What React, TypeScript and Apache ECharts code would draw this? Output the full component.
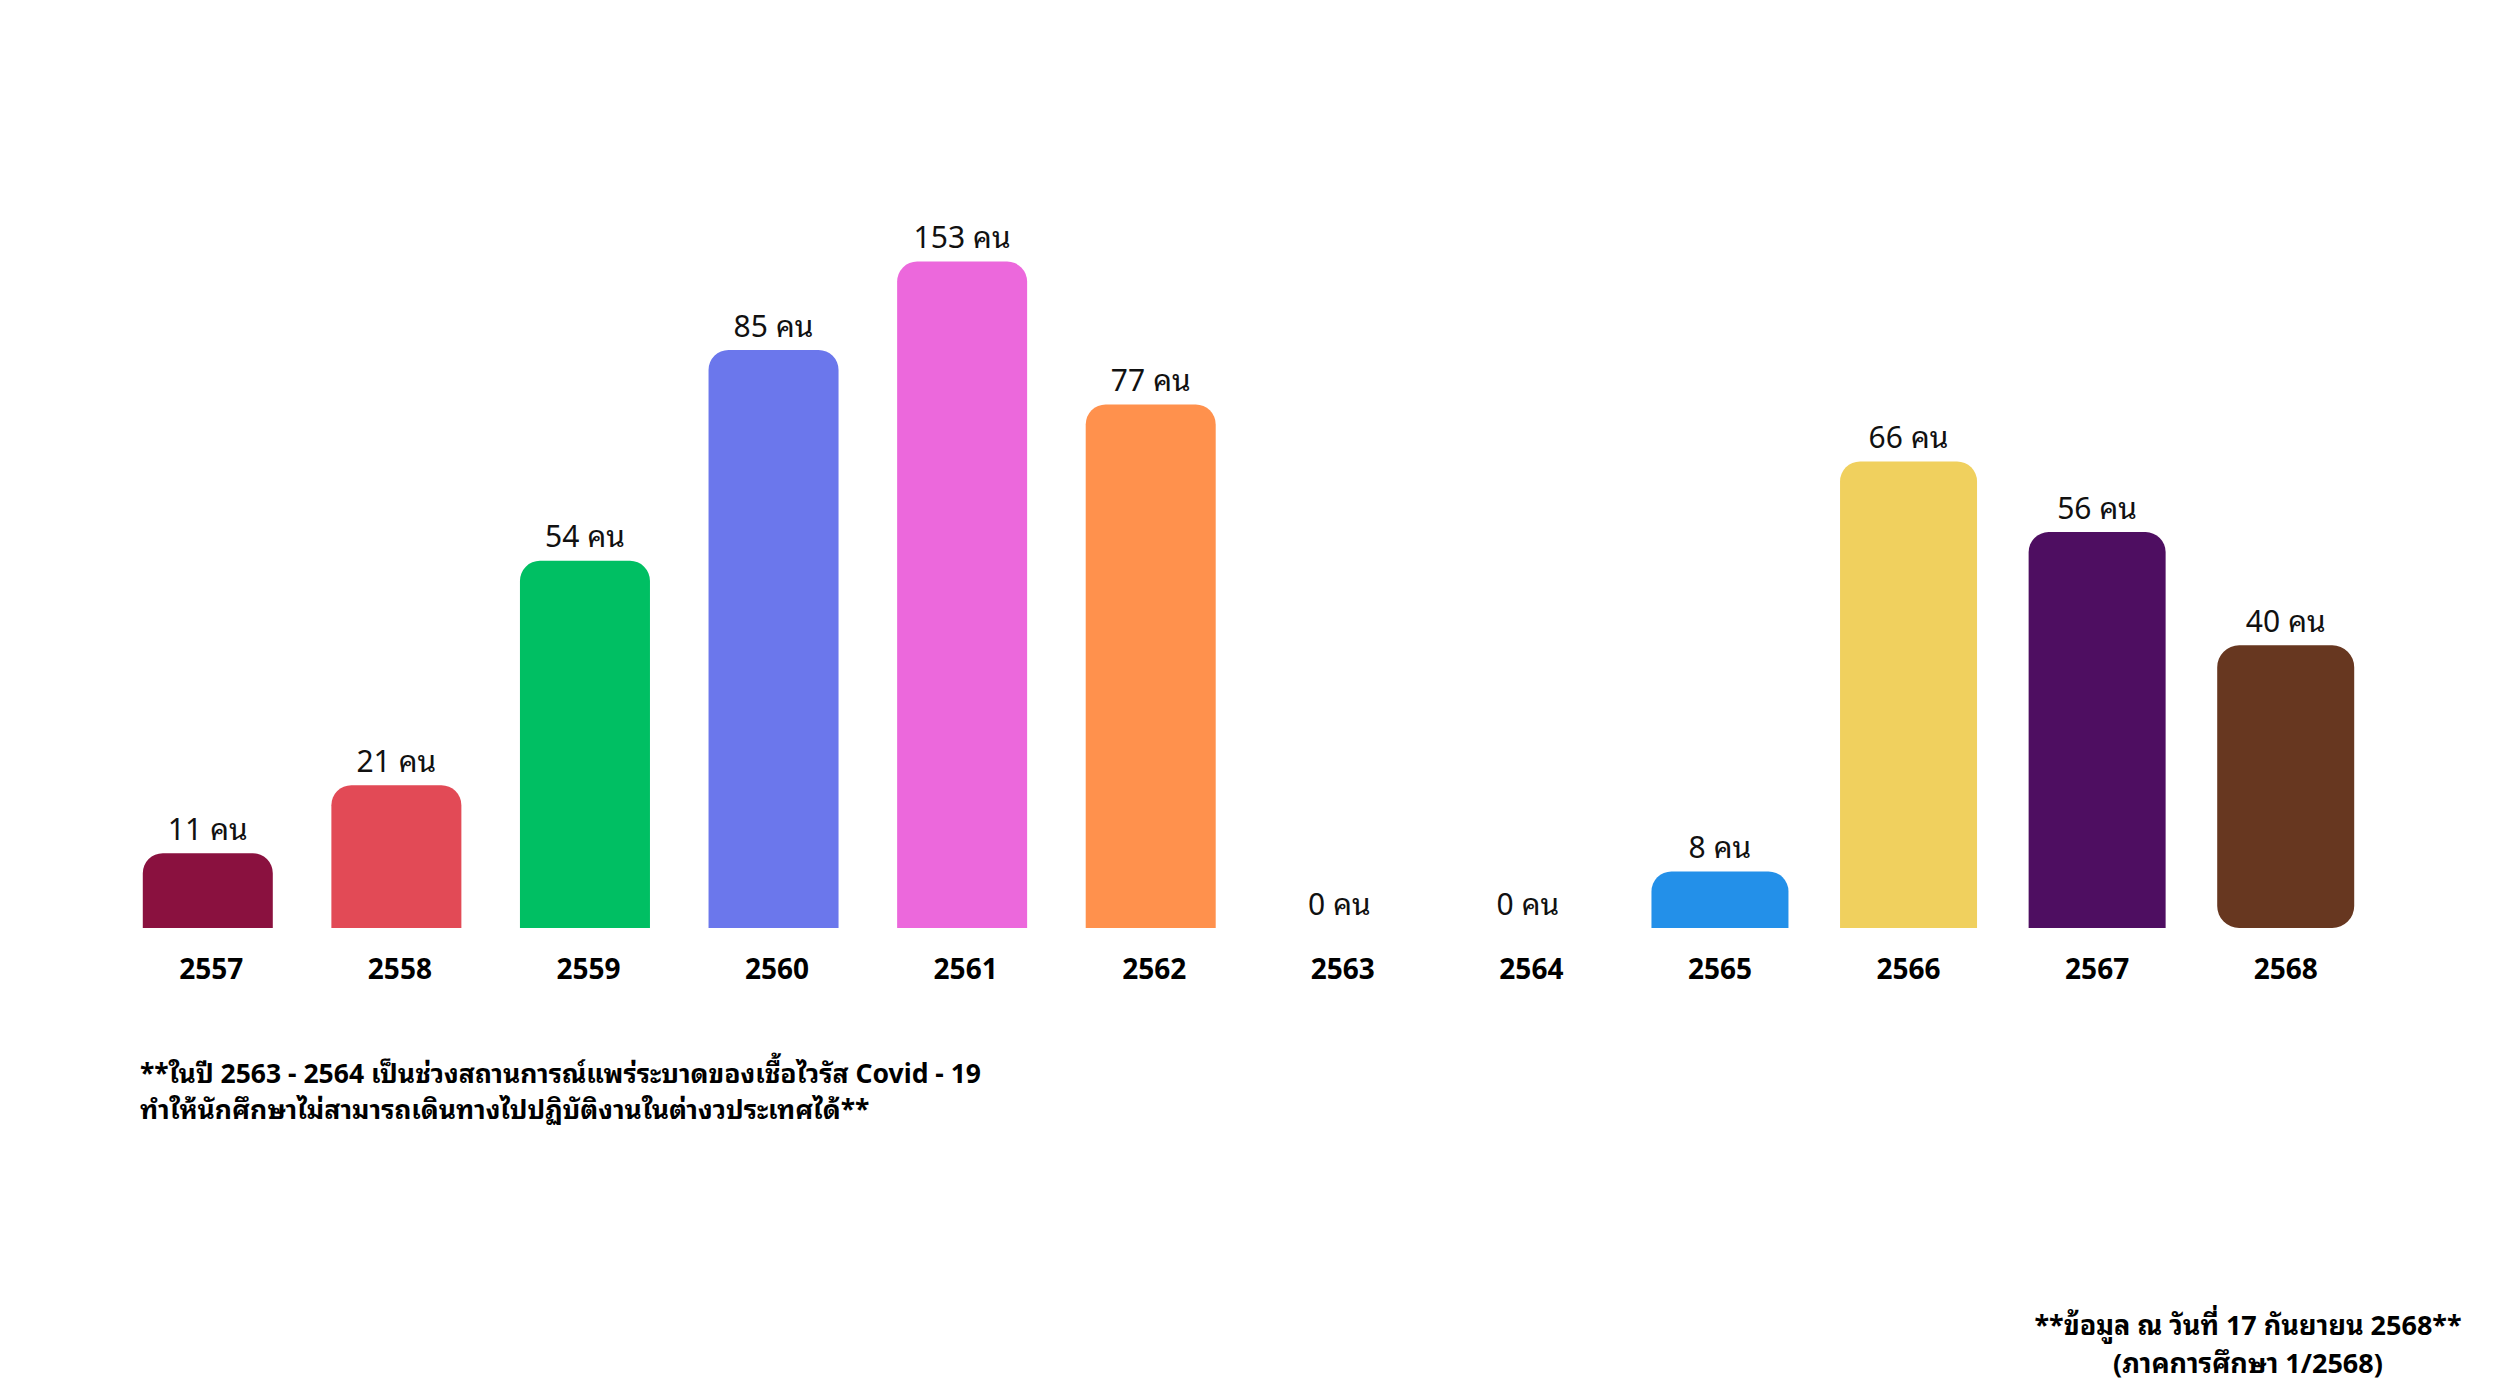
import React, { useEffect, useRef } from "react";
import * as echarts from "echarts";

const categories = ["2557", "2558", "2559", "2560", "2561", "2562", "2563", "2564", "2565", "2566", "2567", "2568"];
const values = [11, 21, 54, 85, 153, 77, 0, 0, 8, 66, 56, 40];
const barColors = ["#8A113F", "#E24A56", "#00BF63", "#6B77EC", "#EC68DC", "#FF914D", "#999999", "#999999", "#2390E9", "#F0D05E", "#4E0E61", "#673720"];
const unit = "คน";
const noteLeft = [
  "**ในปี 2563 - 2564 เป็นช่วงสถานการณ์แพร่ระบาดของเชื้อไวรัส Covid - 19",
  "ทำให้นักศึกษาไม่สามารถเดินทางไปปฏิบัติงานในต่างวประเทศได้**",
];
const noteRight = ["**ข้อมูล ณ วันที่ 17 กันยายน 2568**", "(ภาคการศึกษา 1/2568)"];

const FONT = "'Noto Sans', 'Noto Sans Thai Looped', 'Loma', 'Garuda', 'Tlwg Typo', 'Noto Sans Thai', sans-serif";
const splitIndex = 8;

export default function App() {
  const ref = useRef<HTMLDivElement>(null);
  useEffect(() => {
    if (!ref.current) return;
    const chart = echarts.init(ref.current, undefined, { renderer: "svg" });
    const mk = (inGroup: (i: number) => boolean, radius: (i: number) => number[]) =>
      values.map((v, i) =>
        inGroup(i)
          ? { value: v, itemStyle: { color: barColors[i], borderRadius: radius(i) } }
          : "-"
      );
    const label = {
      show: true,
      position: "top",
      distance: 10,
      fontSize: 30,
      fontFamily: FONT,
      color: "#111",
      formatter: (p: any) => `${p.value} ${unit}`,
    };
    const hiddenAxis = {
      axisLine: { show: false },
      axisTick: { show: false },
      axisLabel: { show: false },
      splitLine: { show: false },
    };
    chart.setOption({
      animation: false,
      backgroundColor: "#ffffff",
      grid: { left: 117, right: 120, top: 214, bottom: 1399 - 928 },
      xAxis: {
        type: "category",
        data: categories,
        axisLine: { show: false },
        axisTick: { show: false },
        axisLabel: { margin: 26, fontSize: 28, fontWeight: "bold", color: "#000", fontFamily: FONT },
      },
      yAxis: [
        {
          type: "value",
          min: 0,
          max: 160,
          breaks: [{ start: 96, end: 151, gap: 0 }],
          breakArea: { show: false },
          ...hiddenAxis,
        },
        {
          type: "value",
          min: 0,
          max: 101,
          ...hiddenAxis,
        },
      ],
      series: [
        {
          type: "bar",
          barWidth: 130,
          data: mk((i) => i < splitIndex, () => [20, 20, 0, 0]),
          label,
        },
        {
          type: "bar",
          yAxisIndex: 1,
          barWidth: 137,
          barGap: "-100%",
          data: mk((i) => i >= splitIndex, (i) => (i === values.length - 1 ? [22, 22, 22, 22] : [20, 20, 0, 0])),
          label,
        },
      ],
      graphic: [
        {
          type: "text",
          left: 140,
          top: 1055,
          style: {
            text: noteLeft.join("\n"),
            fontSize: 26.5,
            fontWeight: "bold",
            fontFamily: FONT,
            fill: "#000",
            lineHeight: 36,
          },
        },
        {
          type: "text",
          x: 2248,
          y: 1305,
          style: {
            text: noteRight.join("\n"),
            fontSize: 27,
            fontWeight: "bold",
            fontFamily: FONT,
            fill: "#000",
            lineHeight: 38,
            align: "center",
          },
        },
      ],
    });
    return () => chart.dispose();
  }, []);
  return (
    <div
      ref={ref}
      style={{ position: "absolute", left: 0, top: 0, width: 2500, height: 1399, background: "#fff" }}
    />
  );
}
